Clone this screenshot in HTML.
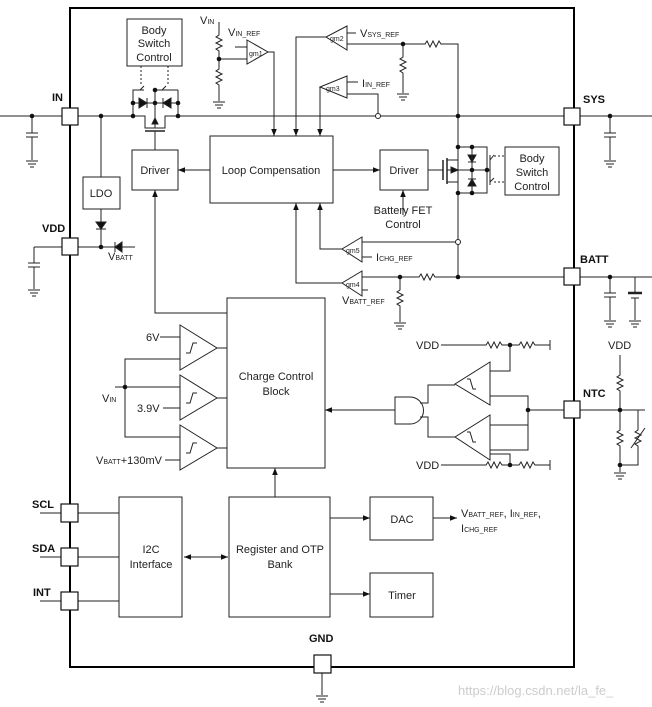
<!DOCTYPE html>
<html><head><meta charset="utf-8"><style>
html,body{margin:0;padding:0;background:#fff}
svg{display:block}
text{font-family:"Liberation Sans",sans-serif;font-size:11px;fill:#222}
.b{font-weight:bold;font-size:11px;fill:#111}
.s{font-size:7px}
</style></head><body>
<svg width="652" height="707" viewBox="0 0 652 707" xmlns="http://www.w3.org/2000/svg">
<defs>
<marker id="a" viewBox="0 0 10 10" refX="10" refY="5" markerWidth="7" markerHeight="7" orient="auto-start-reverse"><path d="M0,1 L10,5 L0,9z" fill="#111"/></marker>
<g id="gnd"><line x1="-6" y1="0" x2="6" y2="0"/><line x1="-4" y1="3" x2="4" y2="3"/><line x1="-2" y1="6" x2="2" y2="6"/></g>
<g id="cap"><line x1="-6" y1="0" x2="6" y2="0"/><line x1="-6" y1="4" x2="6" y2="4"/></g>
<path id="rh" d="M0,0 l3,0 l2,-3 l3,6 l3,-6 l3,6 l3,-6 l2,3 l3,0" fill="none"/>
<path id="rv" d="M0,0 l0,3 l-3,2 l6,3 l-6,3 l6,3 l-6,3 l3,2 l0,3" fill="none"/>
</defs>
<g fill="none" stroke="#222" stroke-width="1">
<rect x="70" y="8" width="504" height="659" stroke="#000" stroke-width="2"/>
<line x1="0" y1="116" x2="133" y2="116"/>
<line x1="178" y1="116" x2="652" y2="116"/>
<line x1="32" y1="116" x2="32" y2="133"/><use href="#cap" x="32" y="133"/><line x1="32" y1="137" x2="32" y2="160"/><use href="#gnd" x="32" y="161"/>
<line x1="101" y1="116" x2="101" y2="177"/>
<rect x="83" y="177" width="37" height="32"/>
<line x1="101" y1="209" x2="101" y2="247"/>
<path d="M96,222 h10 l-5,7z" fill="#111"/><line x1="96" y1="229" x2="106" y2="229"/>
<line x1="70" y1="247" x2="135" y2="247"/>
<path d="M122,242 v10 l-7,-5z" fill="#111"/><line x1="115" y1="242" x2="115" y2="252"/>
<line x1="34" y1="247" x2="62" y2="247"/><line x1="34" y1="247" x2="34" y2="263"/><use href="#cap" x="34" y="263"/><line x1="34" y1="267" x2="34" y2="289"/><use href="#gnd" x="34" y="290"/>
<rect x="127" y="19" width="55" height="47"/>
<line x1="141" y1="66" x2="141" y2="86" stroke-dasharray="2,2"/><line x1="168" y1="66" x2="168" y2="86" stroke-dasharray="2,2"/>
<path d="M133,116 V90 H140 L144,86 M155,90 H162 L166,86 M155,90 H170 M178,90 V116 M133,90 H144"/>
<line x1="170" y1="90" x2="178" y2="90"/>
<line x1="155" y1="90" x2="155" y2="128"/>
<line x1="133" y1="103" x2="178" y2="103"/>
<path d="M139,98 v10 l8,-5z" fill="#111"/><line x1="147" y1="98" x2="147" y2="108"/>
<path d="M171,98 v10 l-8,-5z" fill="#111"/><line x1="163" y1="98" x2="163" y2="108"/>
<path d="M133,116 h12 v12 h20 v-12 h13"/>
<line x1="145" y1="131" x2="165" y2="131" stroke-width="1.5"/>
<line x1="155" y1="131" x2="155" y2="150"/>
<path d="M152,124 l3,-6 l3,6z" fill="#111"/>
<rect x="132" y="150" width="46" height="40"/>
<line x1="210" y1="170" x2="178" y2="170" marker-end="url(#a)"/>
<rect x="210" y="136" width="123" height="67"/>
<line x1="333" y1="170" x2="380" y2="170" marker-end="url(#a)"/>
<line x1="219" y1="22" x2="219" y2="32"/><use href="#rv" x="219" y="32"/><line x1="219" y1="52" x2="219" y2="66"/><use href="#rv" x="219" y="66"/><line x1="219" y1="86" x2="219" y2="101"/><use href="#gnd" x="219" y="102"/>
<line x1="219" y1="59" x2="247" y2="59"/><line x1="235" y1="47" x2="247" y2="47"/>
<path d="M247,40 L268,52 L247,64z"/>
<path d="M268,52 H274 V136" marker-end="url(#a)"/>
<path d="M347,26 L326,37 L347,50z"/>
<path d="M326,37 H296 V136" marker-end="url(#a)"/>
<line x1="347" y1="33" x2="356" y2="33"/>
<line x1="347" y1="44" x2="422" y2="44"/><use href="#rh" x="422" y="44"/><path d="M444,44 H458 V277"/>
<line x1="403" y1="44" x2="403" y2="54"/><use href="#rv" x="403" y="54"/><line x1="403" y1="74" x2="403" y2="93"/><use href="#gnd" x="403" y="94"/>
<path d="M347,76 L320,87 L347,98z"/>
<path d="M320,87 H320 V136" marker-end="url(#a)"/>
<line x1="347" y1="82" x2="358" y2="82"/>
<path d="M347,94 H378 V113"/><circle cx="378" cy="116" r="2.5" fill="#fff"/>
<rect x="380" y="150" width="48" height="40"/>
<line x1="403" y1="215" x2="403" y2="190" marker-end="url(#a)"/>
<line x1="428" y1="170" x2="443" y2="170"/>
<line x1="443" y1="160" x2="443" y2="180" stroke-width="1.5"/>
<line x1="447" y1="158" x2="447" y2="184" stroke-width="1.5"/>
<path d="M447,160 H458 M447,170 H487 M447,182 H458 M458,147 H487 V193 H458"/>
<path d="M451,167 l7,3 l-7,3z" fill="#111"/>
<path d="M468,155 h8 l-4,7z" fill="#111"/><line x1="468" y1="162" x2="476" y2="162"/>
<path d="M468,186 h8 l-4,-7z" fill="#111"/><line x1="468" y1="179" x2="476" y2="179"/>
<line x1="472" y1="147" x2="472" y2="193"/>
<path d="M487,170 H490 M490,160 L494,155 M490,182 L494,178"/>
<line x1="490" y1="155" x2="490" y2="185"/>
<line x1="494" y1="156" x2="505" y2="156" stroke-dasharray="2,2"/><line x1="494" y1="182" x2="505" y2="182" stroke-dasharray="2,2"/>
<rect x="505" y="147" width="54" height="48"/>
<path d="M362,237 L342,249 L362,262z"/>
<path d="M342,249 H320 V203" marker-end="url(#a)"/>
<line x1="362" y1="242" x2="455" y2="242"/><circle cx="458" cy="242" r="2.5" fill="#fff"/>
<line x1="362" y1="257" x2="372" y2="257"/>
<path d="M362,271 L342,283 L362,296z"/>
<path d="M342,283 H296 V203" marker-end="url(#a)"/>
<line x1="362" y1="277" x2="416" y2="277"/><use href="#rh" x="416" y="277"/><line x1="438" y1="277" x2="652" y2="277"/>
<line x1="400" y1="277" x2="400" y2="287"/><use href="#rv" x="400" y="287"/><line x1="400" y1="307" x2="400" y2="322"/><use href="#gnd" x="400" y="323"/>
<line x1="362" y1="290" x2="368" y2="290"/>
<line x1="610" y1="116" x2="610" y2="133"/><use href="#cap" x="610" y="133"/><line x1="610" y1="137" x2="610" y2="160"/><use href="#gnd" x="610" y="161"/>
<line x1="610" y1="277" x2="610" y2="293"/><use href="#cap" x="610" y="293"/><line x1="610" y1="297" x2="610" y2="320"/><use href="#gnd" x="610" y="321"/>
<path d="M635,277 V292"/><line x1="628" y1="293" x2="642" y2="293" stroke-width="2.5"/><line x1="631" y1="298" x2="639" y2="298"/><line x1="635" y1="298" x2="635" y2="320"/><use href="#gnd" x="635" y="321"/>
<rect x="227" y="298" width="98" height="170"/>
<path d="M227,313 H155 V190" marker-end="url(#a)"/>
<g id="cmp"><path d="M180,325 L217,348 L180,370z"/><line x1="217" y1="348" x2="227" y2="348"/><path d="M186,353 h4 l3,-10 h4 M190,353 l3,-10"/></g>
<use href="#cmp" y="50"/><use href="#cmp" y="100"/>
<line x1="160" y1="337" x2="180" y2="337"/>
<path d="M180,359 H125 V437 H180"/>
<line x1="115" y1="387" x2="180" y2="387"/>
<line x1="163" y1="408" x2="180" y2="408"/>
<line x1="165" y1="460" x2="180" y2="460"/>
<line x1="395" y1="410" x2="325" y2="410" marker-end="url(#a)"/>
<path d="M410,397 H395 V424 H410 A13.5,13.5 0 0 0 410,397z"/>
<path d="M420,403 H428 V385 H455 M420,417 H428 V437 H455"/>
<path d="M490,362 L455,384 L490,405z"/><path d="M490,415 L455,437 L490,460z"/>
<path d="M476,389 h-3 l-3,-10 h-3 M473,389 l-3,-10"/><path d="M476,442 h-3 l-3,-10 h-3 M473,442 l-3,-10"/>
<path d="M490,371 H510 V345 M490,396 H528 V450 H490 M490,425 H528 M510,465 V454 H490"/>
<line x1="528" y1="410" x2="572" y2="410"/>
<line x1="441" y1="345" x2="483" y2="345"/><use href="#rh" x="483" y="345"/><line x1="505" y1="345" x2="516" y2="345"/><use href="#rh" x="516" y="345"/><line x1="538" y1="345" x2="550" y2="345"/><line x1="550" y1="340" x2="550" y2="350"/>
<line x1="441" y1="465" x2="483" y2="465"/><use href="#rh" x="483" y="465"/><line x1="505" y1="465" x2="516" y2="465"/><use href="#rh" x="516" y="465"/><line x1="538" y1="465" x2="550" y2="465"/><line x1="550" y1="460" x2="550" y2="470"/>
<line x1="578" y1="410" x2="645" y2="410"/>
<line x1="620" y1="355" x2="620" y2="372"/><use href="#rv" x="620" y="372"/><line x1="620" y1="392" x2="620" y2="427"/><use href="#rv" x="620" y="427"/><line x1="620" y1="447" x2="620" y2="472"/><use href="#gnd" x="620" y="473"/>
<path d="M620,410 H638 V427"/><use href="#rv" x="638" y="427"/><path d="M638,447 V465 H620"/><line x1="631" y1="448" x2="645" y2="428"/>
<rect x="119" y="497" width="63" height="120"/>
<rect x="229" y="497" width="101" height="120"/>
<rect x="370" y="497" width="63" height="43"/>
<rect x="370" y="573" width="63" height="44"/>
<line x1="275" y1="497" x2="275" y2="468" marker-end="url(#a)"/>
<line x1="184" y1="557" x2="228" y2="557" marker-start="url(#a)" marker-end="url(#a)"/>
<line x1="330" y1="518" x2="370" y2="518" marker-end="url(#a)"/>
<line x1="330" y1="594" x2="370" y2="594" marker-end="url(#a)"/>
<line x1="433" y1="518" x2="457" y2="518" marker-end="url(#a)"/>
<line x1="40" y1="513" x2="119" y2="513"/><line x1="40" y1="557" x2="119" y2="557"/><line x1="40" y1="601" x2="119" y2="601"/>
<line x1="322" y1="673" x2="322" y2="695"/><use href="#gnd" x="322" y="696"/>
</g>
<g fill="#fff" stroke="#111" stroke-width="1.2">
<rect x="62" y="108" width="16" height="17"/><rect x="62" y="238" width="16" height="17"/>
<rect x="564" y="108" width="16" height="17"/><rect x="564" y="268" width="16" height="17"/><rect x="564" y="401" width="16" height="17"/>
<rect x="61" y="504" width="17" height="18"/><rect x="61" y="548" width="17" height="18"/><rect x="61" y="592" width="17" height="18"/>
<rect x="314" y="655" width="17" height="18"/>
</g>
<g fill="#111">
<circle cx="32" cy="116" r="2.3"/><circle cx="101" cy="116" r="2.3"/><circle cx="101" cy="247" r="2.3"/>
<circle cx="133" cy="116" r="2.3"/><circle cx="178" cy="116" r="2.3"/><circle cx="133" cy="103" r="2.3"/><circle cx="155" cy="103" r="2.3"/><circle cx="178" cy="103" r="2.3"/><circle cx="155" cy="90" r="2.3"/>
<circle cx="219" cy="59" r="2.3"/><circle cx="403" cy="44" r="2.3"/><circle cx="458" cy="116" r="2.3"/>
<circle cx="458" cy="147" r="2.3"/><circle cx="472" cy="147" r="2.3"/><circle cx="458" cy="193" r="2.3"/><circle cx="472" cy="193" r="2.3"/><circle cx="472" cy="170" r="2.3"/><circle cx="487" cy="170" r="2.3"/>
<circle cx="458" cy="277" r="2.3"/><circle cx="400" cy="277" r="2.3"/><circle cx="610" cy="116" r="2.3"/><circle cx="610" cy="277" r="2.3"/>
<circle cx="125" cy="387" r="2.3"/><circle cx="510" cy="345" r="2.3"/><circle cx="510" cy="465" r="2.3"/><circle cx="528" cy="410" r="2.3"/>
<circle cx="620" cy="410" r="2.3"/><circle cx="620" cy="465" r="2.3"/>
</g>
<text class="b" x="52" y="101">IN</text>
<text class="b" x="42" y="232">VDD</text>
<text class="b" x="583" y="103">SYS</text>
<text class="b" x="580" y="263">BATT</text>
<text class="b" x="583" y="397">NTC</text>
<text class="b" x="32" y="508">SCL</text>
<text class="b" x="32" y="552">SDA</text>
<text class="b" x="33" y="596">INT</text>
<text class="b" x="309" y="642">GND</text>
<text x="154" y="34" text-anchor="middle">Body</text><text x="154" y="47" text-anchor="middle">Switch</text><text x="154" y="61" text-anchor="middle">Control</text>
<text x="532" y="162" text-anchor="middle">Body</text><text x="532" y="176" text-anchor="middle">Switch</text><text x="532" y="190" text-anchor="middle">Control</text>
<text x="155" y="174" text-anchor="middle">Driver</text>
<text x="404" y="174" text-anchor="middle">Driver</text>
<text x="101" y="197" text-anchor="middle">LDO</text>
<text x="271" y="174" text-anchor="middle">Loop Compensation</text>
<text x="403" y="214" text-anchor="middle">Battery FET</text><text x="403" y="228" text-anchor="middle">Control</text>
<text x="108" y="260">V<tspan class="s">BATT</tspan></text>
<text x="200" y="24">V<tspan class="s">IN</tspan></text>
<text x="228" y="36">V<tspan class="s">IN_REF</tspan></text>
<text x="360" y="37">V<tspan class="s">SYS_REF</tspan></text>
<text x="362" y="87">I<tspan class="s">IN_REF</tspan></text>
<text x="376" y="261">I<tspan class="s">CHG_REF</tspan></text>
<text x="342" y="304">V<tspan class="s">BATT_REF</tspan></text>
<text class="s" x="249" y="56">gm1</text><text class="s" x="330" y="41">gm2</text><text class="s" x="326" y="91">gm3</text><text class="s" x="346" y="287">gm4</text><text class="s" x="346" y="253">gm5</text>
<text x="276" y="380" text-anchor="middle">Charge Control</text><text x="276" y="395" text-anchor="middle">Block</text>
<text x="146" y="341">6V</text>
<text x="102" y="402">V<tspan class="s">IN</tspan></text>
<text x="137" y="412">3.9V</text>
<text x="96" y="464">V<tspan class="s">BATT</tspan>+130mV</text>
<text x="416" y="349">VDD</text><text x="416" y="469">VDD</text><text x="608" y="349">VDD</text>
<text x="151" y="553" text-anchor="middle">I2C</text><text x="151" y="568" text-anchor="middle">Interface</text>
<text x="280" y="553" text-anchor="middle">Register and OTP</text><text x="280" y="568" text-anchor="middle">Bank</text>
<text x="402" y="523" text-anchor="middle">DAC</text>
<text x="402" y="599" text-anchor="middle">Timer</text>
<text x="461" y="517">V<tspan class="s">BATT_REF</tspan>, I<tspan class="s">IN_REF</tspan>,</text>
<text x="461" y="532">I<tspan class="s">CHG_REF</tspan></text>
<text x="458" y="695" style="fill:#ccc;font-size:13px">https://blog.csdn.net/la_fe_</text>
</svg>
</body></html>
